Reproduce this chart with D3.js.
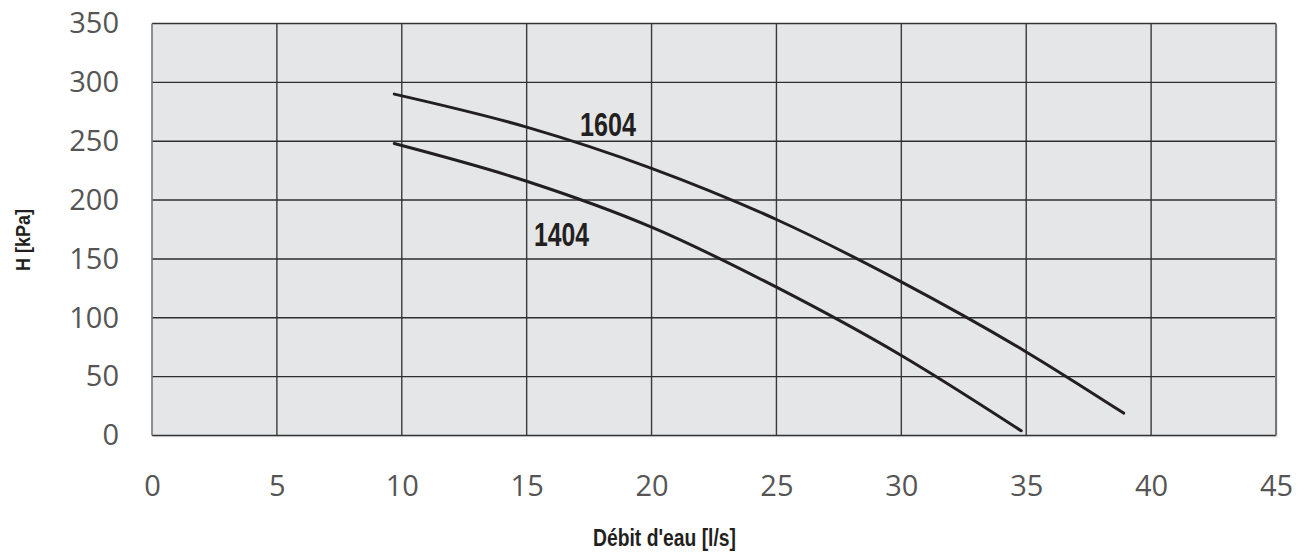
<!DOCTYPE html>
<html>
<head>
<meta charset="utf-8">
<script src="https://cdn.jsdelivr.net/npm/d3@7"></script>
<style>
  body { margin: 0; background: #fff; }
  .tick text { font-family: "Open Sans", sans-serif; font-size: 29px; fill: #555; }
  .lbl { font-family: "Liberation Sans", Arial, sans-serif; font-weight: bold; fill: #231f20; }
</style>
</head>
<body>
<svg id="chart"></svg>
<script>
// curve data (flow l/s, head kPa)
var flow1604 = [9.7, 15, 20, 25, 30, 35, 38.9];
var head1604 = [290, 262, 227, 183.5, 130.5, 71, 19];
var flow1404 = [9.7, 15, 20, 25, 30, 34.8];
var head1404 = [248, 216, 177, 126, 68, 4];
var xTicks = [0, 5, 10, 15, 20, 25, 30, 35, 40, 45];
var yTicks = [0, 50, 100, 150, 200, 250, 300, 350];

var W = 1309, H = 556;
var margin = { top: 23.5, right: 33, bottom: 120.5, left: 152 };

var svg = d3.select("#chart").attr("width", W).attr("height", H);

var x = d3.scaleLinear().domain([0, 45]).range([margin.left, W - margin.right]);
var y = d3.scaleLinear().domain([0, 350]).range([H - margin.bottom, margin.top]);

// faint shadow + plot background
svg.append("rect")
  .attr("x", x(0) + 2).attr("y", y(350) + 2)
  .attr("width", x(45) - x(0)).attr("height", y(0) - y(350))
  .attr("fill", "#ececec");
svg.append("rect")
  .attr("x", x(0)).attr("y", y(350))
  .attr("width", x(45) - x(0)).attr("height", y(0) - y(350))
  .attr("fill", "#e5e6e8");

// grid
svg.append("g").selectAll("line")
  .data(xTicks.slice(1, -1))
  .enter().append("line")
    .attr("x1", function(d) { return x(d); }).attr("x2", function(d) { return x(d); })
    .attr("y1", y(350)).attr("y2", y(0))
    .attr("stroke", "#3a3a3a").attr("stroke-width", 1.4);

svg.append("g").selectAll("line")
  .data(yTicks.slice(1, -1))
  .enter().append("line")
    .attr("x1", x(0)).attr("x2", x(45))
    .attr("y1", function(d) { return y(d); }).attr("y2", function(d) { return y(d); })
    .attr("stroke", "#2e2e2e").attr("stroke-width", 1.4);

// frame: top/bottom dark, sides grey
svg.append("line").attr("x1", x(0)).attr("x2", x(45)).attr("y1", y(350)).attr("y2", y(350))
  .attr("stroke", "#333").attr("stroke-width", 1.6);
svg.append("line").attr("x1", x(0)).attr("x2", x(45)).attr("y1", y(0)).attr("y2", y(0))
  .attr("stroke", "#333").attr("stroke-width", 1.6);
svg.append("line").attr("x1", x(0)).attr("x2", x(0)).attr("y1", y(350)).attr("y2", y(0))
  .attr("stroke", "#777").attr("stroke-width", 1.6);
svg.append("line").attr("x1", x(45)).attr("x2", x(45)).attr("y1", y(350)).attr("y2", y(0))
  .attr("stroke", "#777").attr("stroke-width", 2);

// axes (labels only)
var xAxis = svg.append("g")
  .attr("transform", "translate(0," + y(0) + ")")
  .call(d3.axisBottom(x).tickValues(xTicks).tickSize(0).tickPadding(40));
xAxis.select(".domain").remove();

var yAxis = svg.append("g")
  .attr("transform", "translate(" + x(0) + ",0)")
  .call(d3.axisLeft(y).tickValues(yTicks).tickSize(0).tickPadding(33));
yAxis.select(".domain").remove();

// curves
var line = d3.line()
  .x(function(d) { return x(d[0]); })
  .y(function(d) { return y(d[1]); })
  .curve(d3.curveMonotoneX);

[[flow1604, head1604], [flow1404, head1404]].forEach(function(s) {
  svg.append("path")
    .datum(d3.zip(s[0], s[1]))
    .attr("fill", "none")
    .attr("stroke", "#231f20")
    .attr("stroke-width", 3)
    .attr("stroke-linecap", "round")
    .attr("d", line);
});

// curve labels (narrow bold face)
svg.append("text").attr("class", "lbl")
  .attr("x", 580).attr("y", 136)
  .attr("font-size", 33)
  .attr("textLength", 56).attr("lengthAdjust", "spacingAndGlyphs")
  .text("1604");
svg.append("text").attr("class", "lbl")
  .attr("x", 534).attr("y", 246)
  .attr("font-size", 33)
  .attr("textLength", 55).attr("lengthAdjust", "spacingAndGlyphs")
  .text("1404");

// axis titles
svg.append("text").attr("class", "lbl")
  .attr("transform", "translate(30,271) rotate(-90)")
  .attr("font-size", 21)
  .attr("textLength", 62).attr("lengthAdjust", "spacingAndGlyphs")
  .text("H [kPa]");
svg.append("text").attr("class", "lbl")
  .attr("x", 593).attr("y", 546)
  .attr("font-size", 23.5)
  .attr("textLength", 143).attr("lengthAdjust", "spacingAndGlyphs")
  .text("Débit d'eau [l/s]");
</script>
</body>
</html>
